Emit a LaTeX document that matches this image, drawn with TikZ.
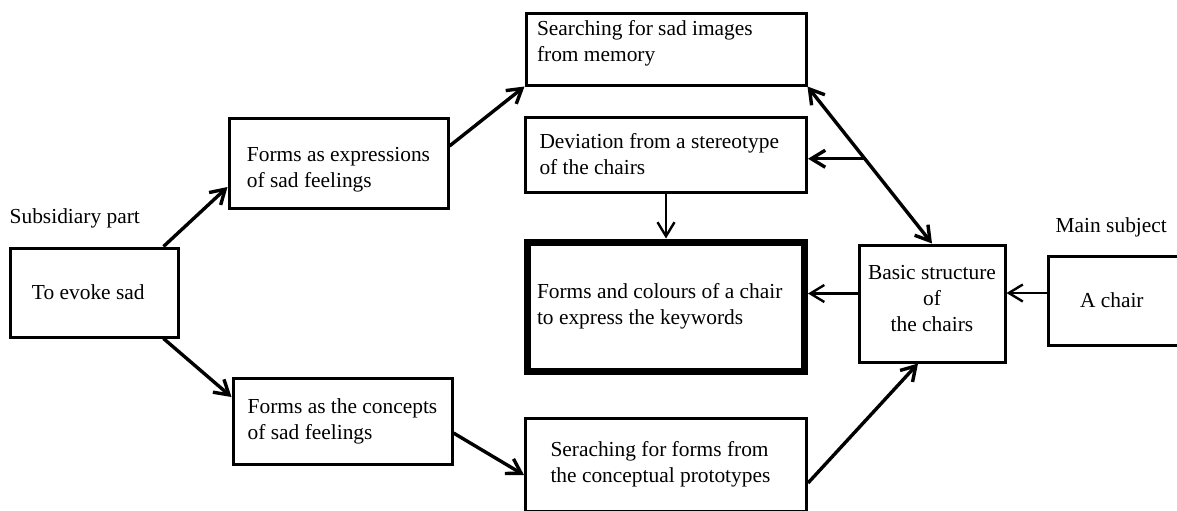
\documentclass[tikz,border=0pt]{standalone}
\usepackage{fontspec}
\setmainfont{Liberation Serif}
\usepackage{tikz}
\usetikzlibrary{arrows.meta, positioning, calc}

\begin{document}
\begin{tikzpicture}
            [x=0.5pt, y=-0.5pt, ->, >={Straight Barb[length=7pt,width=8.5pt]}, line width=1.7pt,
            stage/.style={rectangle, align=flush left, draw=black, line width=1.5pt, inner ysep=0pt,
                          font=\fontsize{10.7}{13}\selectfont},
            goal/.style={stage, line width=3.5pt},
            partlabel/.style={font=\fontsize{10.7}{13}\selectfont, inner sep=0pt, anchor=base west}]

            \useasboundingbox (0,0) rectangle (1177,510);

            \node[stage, minimum width=84pt, minimum height=44.5pt, text width=62pt, inner xsep=11pt] (evoke) at (94,292.5) {To evoke sad};
            \node[stage, minimum width=109.5pt, minimum height=45pt, text height=27pt] (express) at (338.5,163) {Forms as expressions\\of sad feelings};
            \node[stage, minimum width=109.5pt, minimum height=43pt] (concept) at (342.5,421) {Forms as the concepts\\of sad feelings};

            \node[stage, minimum width=140pt, minimum height=36pt, text width=129pt, inner xsep=5.5pt, text depth=21pt] (memory) at (666,49) {Searching for sad images\\from memory};
            \node[stage, minimum width=140.5pt, minimum height=37.5pt, text width=126.5pt, inner xsep=7pt] (deviate) [below = 14.5pt of memory] {Deviation from a stereotype\\of the chairs};
            \node[goal, minimum width=138.5pt, minimum height=64.5pt, text width=129pt, inner xsep=4.75pt] (keyword) [below = 22.5pt of deviate] {Forms and colours of a chair\\to express the keywords};
            \node[stage, minimum width=140.5pt, minimum height=46.5pt, text width=115.5pt, inner xsep=12.5pt] (seek) [below = 21pt of keyword] {Seraching for forms from\\the conceptual prototypes};

            \node[stage, align=center, minimum width=73pt, minimum height=58.5pt, text depth=5.5pt] (basic) at (932,303.5) {Basic structure\\of\\the chairs};
            \node[stage, minimum width=68.5pt, minimum height=44.5pt, text width=36.5pt, inner xsep=16pt] (chair) at (1116.5,300.5) {A chair};

            \node[partlabel] (subsidiary) at (8,223) {Subsidiary part};
            \node[partlabel] (mainsubject) at (1054,232) {Main subject};

            \coordinate (fork) at ($(memory.south east)!0.46!(basic.north)$);

            \draw ([xshift=-8pt]evoke.north east) -- ([yshift=-12pt]express.west);
            \draw ([xshift=-8pt]evoke.south east) -- ([yshift=12pt]concept.west);
            \draw ([yshift=8.5pt]express.east) -- (memory.south west);
            \draw ([yshift=-6pt]concept.east) -- ([yshift=-5.25pt]seek.west);
            \draw ([yshift=-9.25pt]seek.east) -- ([xshift=-7pt]basic.south);
            \draw[<->] (memory.south east) -- (basic.north);
            \draw (fork) -- (fork -| deviate.east);
            \draw[line width=1.2pt] (deviate) -- (keyword);
            \draw[line width=1.2pt] ([yshift=5pt]basic.west) -- ([yshift=5pt]basic.west -| keyword.east);
            \draw[line width=1.2pt] ([yshift=3.75pt]chair.west) -- ([yshift=3.75pt]chair.west -| basic.east);
        \end{tikzpicture}
\end{document}
